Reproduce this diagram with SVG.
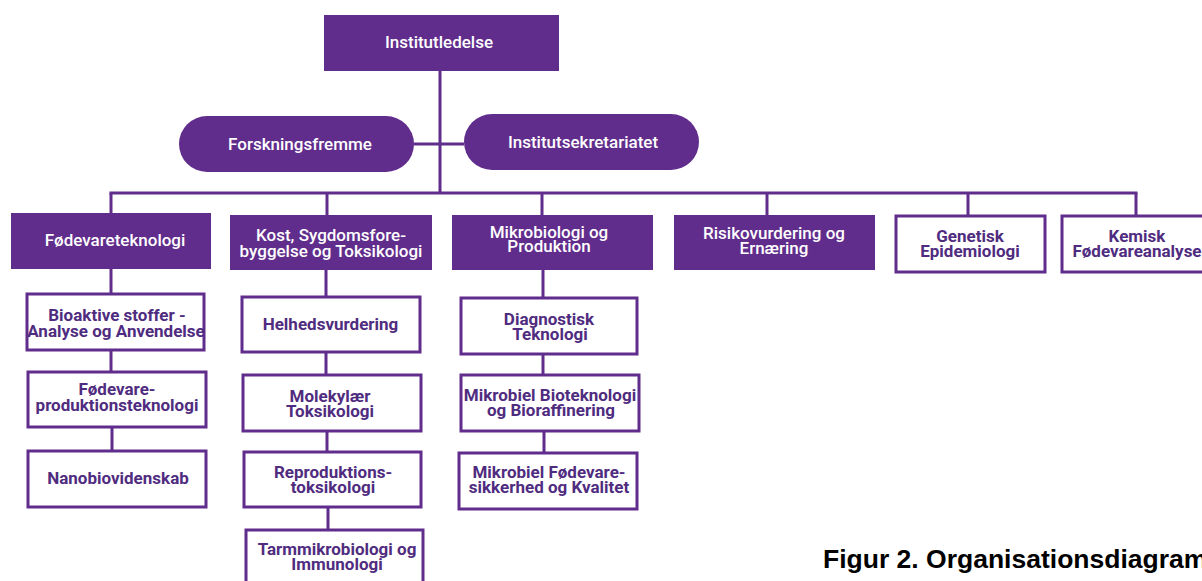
<svg xmlns="http://www.w3.org/2000/svg" width="1202" height="581" viewBox="0 0 1202 581">
<style>
.fill{fill:#612d8c}
.out{fill:#ffffff;stroke:#612d8c;stroke-width:3}
.conn{stroke:#612d8c;stroke-width:3;fill:none}
.wt{font-family:Roboto,"Liberation Sans",sans-serif;font-weight:500;font-size:17px;fill:#ffffff;text-anchor:middle}
.pt{font-family:Roboto,"Liberation Sans",sans-serif;font-weight:700;font-size:17px;fill:#502c80;text-anchor:middle}
.cap{font-family:"Liberation Sans",Arial,sans-serif;font-weight:700;font-size:26.5px;fill:#000000}
</style>
<rect width="1202" height="581" fill="#ffffff"/>
<g id="connectors">
<line class="conn" x1="440" y1="71" x2="440" y2="193"/>
<line class="conn" x1="414" y1="144" x2="464" y2="144"/>
<line class="conn" x1="109.5" y1="193" x2="1137.5" y2="193"/>
<line class="conn" x1="111" y1="193" x2="111" y2="213"/>
<line class="conn" x1="327" y1="193" x2="327" y2="215"/>
<line class="conn" x1="542" y1="193" x2="542" y2="215"/>
<line class="conn" x1="767" y1="193" x2="767" y2="215"/>
<line class="conn" x1="968" y1="193" x2="968" y2="216"/>
<line class="conn" x1="1136" y1="193" x2="1136" y2="216"/>
<line class="conn" x1="111" y1="269" x2="111" y2="294"/>
<line class="conn" x1="111" y1="350" x2="111" y2="372"/>
<line class="conn" x1="112" y1="427" x2="112" y2="451"/>
<line class="conn" x1="326" y1="270" x2="326" y2="297"/>
<line class="conn" x1="326" y1="352" x2="326" y2="375"/>
<line class="conn" x1="327" y1="431" x2="327" y2="452"/>
<line class="conn" x1="328" y1="507" x2="328" y2="530"/>
<line class="conn" x1="543" y1="270" x2="543" y2="298"/>
<line class="conn" x1="543" y1="354" x2="543" y2="375"/>
<line class="conn" x1="544" y1="431" x2="544" y2="453"/>
</g>
<g id="institutledelse"><rect class="fill" x="324" y="15" width="235" height="56"/><text class="wt" x="439" y="48">Institutledelse</text></g>
<g id="forskningsfremme"><rect class="fill" x="179" y="116" width="235" height="56" rx="28"/><text class="wt" x="300" y="149.5">Forskningsfremme</text></g>
<g id="institutsekretariatet"><rect class="fill" x="464" y="114" width="235" height="56" rx="28"/><text class="wt" x="583" y="148">Institutsekretariatet</text></g>
<g id="foedevareteknologi"><rect class="fill" x="11" y="213" width="200" height="56"/><text class="wt" x="115" y="245.5">Fødevareteknologi</text></g>
<g id="kost"><rect class="fill" x="230" y="215" width="202" height="55"/><text class="wt" x="331" y="241">Kost, Sygdomsfore-</text><text class="wt" x="331" y="257">byggelse og Toksikologi</text></g>
<g id="mikrobiologi"><rect class="fill" x="452" y="215" width="201" height="55"/><text class="wt" x="549" y="238">Mikrobiologi og</text><text class="wt" x="549" y="252">Produktion</text></g>
<g id="risikovurdering"><rect class="fill" x="674" y="215" width="201" height="55"/><text class="wt" x="774" y="239">Risikovurdering og</text><text class="wt" x="774" y="254">Ernæring</text></g>
<g id="genetisk"><rect class="out" x="896" y="216" width="149" height="56"/><text class="pt" x="970" y="242">Genetisk</text><text class="pt" x="970" y="257">Epidemiologi</text></g>
<g id="kemisk"><rect class="out" x="1062" y="216" width="150" height="56"/><text class="pt" x="1137" y="242">Kemisk</text><text class="pt" x="1137" y="257">Fødevareanalyse</text></g>
<g id="bioaktive"><rect class="out" x="27" y="294" width="177" height="56"/><text class="pt" x="117" y="321">Bioaktive stoffer -</text><text class="pt" x="116" y="337">Analyse og Anvendelse</text></g>
<g id="foedevareproduktion"><rect class="out" x="28" y="372" width="178" height="55"/><text class="pt" x="117" y="395">Fødevare-</text><text class="pt" x="117" y="411">produktionsteknologi</text></g>
<g id="nanobiovidenskab"><rect class="out" x="28" y="451" width="178" height="56"/><text class="pt" x="118" y="484">Nanobiovidenskab</text></g>
<g id="helhedsvurdering"><rect class="out" x="242" y="297" width="178" height="55"/><text class="pt" x="330.5" y="330">Helhedsvurdering</text></g>
<g id="molekylaer"><rect class="out" x="243" y="375" width="178" height="56"/><text class="pt" x="330" y="402">Molekylær</text><text class="pt" x="330" y="417">Toksikologi</text></g>
<g id="reproduktion"><rect class="out" x="244" y="452" width="177" height="55"/><text class="pt" x="333" y="478">Reproduktions-</text><text class="pt" x="333" y="493">toksikologi</text></g>
<g id="tarmmikrobiologi"><rect class="out" x="246" y="530" width="177" height="60"/><text class="pt" x="337" y="555">Tarmmikrobiologi og</text><text class="pt" x="337" y="570">Immunologi</text></g>
<g id="diagnostisk"><rect class="out" x="461" y="298" width="176" height="56"/><text class="pt" x="549" y="325">Diagnostisk</text><text class="pt" x="550" y="340">Teknologi</text></g>
<g id="mikrobiel-bioteknologi"><rect class="out" x="461" y="375" width="178" height="56"/><text class="pt" x="550" y="401">Mikrobiel Bioteknologi</text><text class="pt" x="551" y="416">og Bioraffinering</text></g>
<g id="mikrobiel-foedevare"><rect class="out" x="459" y="453" width="178" height="56"/><text class="pt" x="549" y="478">Mikrobiel Fødevare-</text><text class="pt" x="549" y="493">sikkerhed og Kvalitet</text></g>
<text class="cap" x="823" y="568">Figur 2. Organisationsdiagram</text>
</svg>
